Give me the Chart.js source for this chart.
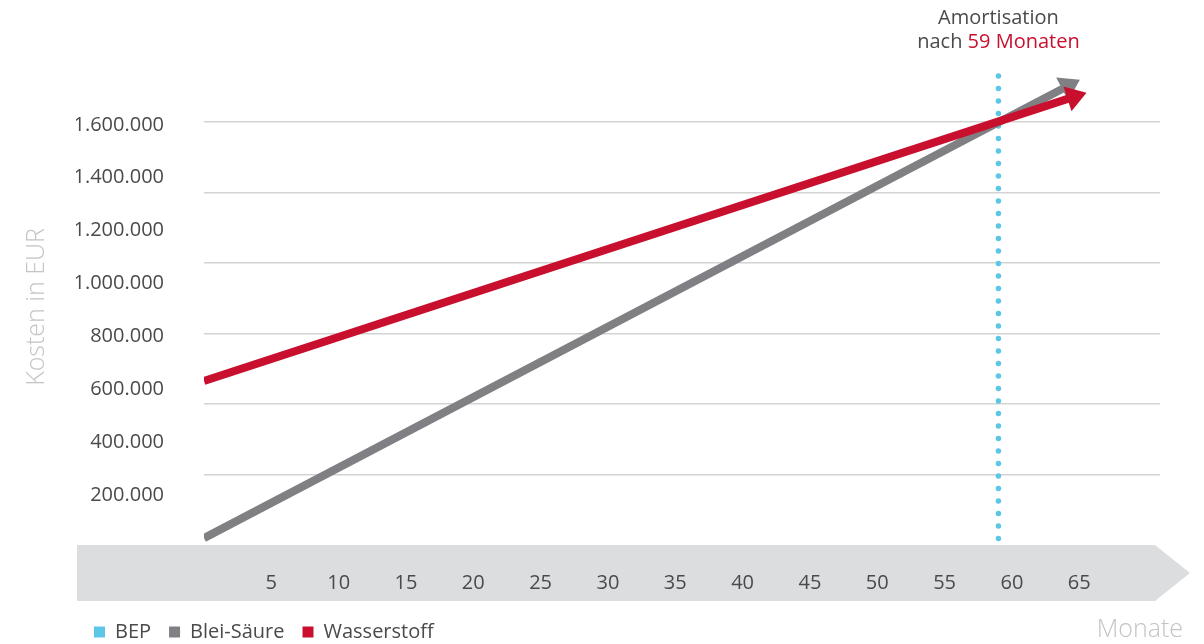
<!DOCTYPE html>
<html lang="de">
<head>
<meta charset="utf-8">
<title>Amortisation Blei-Säure vs. Wasserstoff</title>
<script src="https://cdn.jsdelivr.net/npm/chart.js@4.4.1/dist/chart.umd.min.js"></script>
<style>
    html, body { margin: 0; padding: 0; background: #ffffff; }
    #wrap { width: 1204px; height: 644px; }
</style>
</head>
<body>
<div id="wrap"><canvas id="bepChart"></canvas></div>
<script>
// values (months / EUR)
const bleiMonths = [0, 63.8];
const bleiCosts = [26000, 1726000];
const wasserMonths = [0, 64.2];
const wasserCosts = [620000, 1688000];
const bepMonth = 59;
const bepRange = [25000, 1780000];

const xTicks = [5, 10, 15, 20, 25, 30, 35, 40, 45, 50, 55, 60, 65];
const yTicks = [200000, 400000, 600000, 800000, 1000000, 1200000, 1400000, 1600000];
const gridValues = [266667, 533333, 800000, 1066667, 1333333, 1600000];

const RED = '#c8102e';
const GREY = '#808084';
const CYAN = '#5bc6e6';
const TEXT = '#4a4a4a';
const LIGHT = '#c4c4c4';

Chart.defaults.font.family = "'Open Sans', sans-serif";
Chart.defaults.font.size = 20;
Chart.defaults.font.weight = 500;
Chart.defaults.color = TEXT;

const toPoints = (xs, ys) => xs.map((x, i) => ({ x: x, y: ys[i] }));

// grey arrow band behind the x axis, "Monate" and the annotation on top
const decorPlugin = {
    id: 'decor',
    beforeDraw(chart) {
        const { ctx, chartArea } = chart;
        const top = chartArea.bottom;
        const h = 56;
        ctx.save();
        ctx.fillStyle = '#dcdddf';
        ctx.beginPath();
        ctx.moveTo(chartArea.left - 127, top);
        ctx.lineTo(chartArea.right - 5, top);
        ctx.lineTo(chartArea.right + 30, top + h / 2);
        ctx.lineTo(chartArea.right - 5, top + h);
        ctx.lineTo(chartArea.left - 127, top + h);
        ctx.closePath();
        ctx.fill();
        ctx.restore();
    },
    afterDatasetDraw(chart, args) {
        const ds = chart.data.datasets[args.index];
        if (!ds.arrow) return;
        const pts = args.meta.data;
        const a = pts[pts.length - 2], b = pts[pts.length - 1];
        const ang = Math.atan2(b.y - a.y, b.x - a.x);
        const len = 19, half = 13;
        const ctx = chart.ctx;
        ctx.save();
        ctx.translate(b.x, b.y);
        ctx.rotate(ang);
        ctx.fillStyle = ds.borderColor;
        ctx.beginPath();
        ctx.moveTo(len, 0);
        ctx.lineTo(-1, -half);
        ctx.lineTo(-1, half);
        ctx.closePath();
        ctx.fill();
        ctx.restore();
    },
    afterDraw(chart) {
        const { ctx, chartArea } = chart;
        const x = chart.scales.x.getPixelForValue(bepMonth);
        ctx.save();
        ctx.textBaseline = 'middle';
        ctx.font = "500 20px 'Open Sans', sans-serif";
        ctx.textAlign = 'center';
        ctx.fillStyle = TEXT;
        ctx.fillText('Amortisation', x, 18);

        const part1 = 'nach ';
        const part2 = bepMonth + ' Monaten';
        const w1 = ctx.measureText(part1).width;
        const w2 = ctx.measureText(part2).width;
        const startX = x - (w1 + w2) / 2;
        ctx.textAlign = 'left';
        ctx.fillText(part1, startX, 42);
        ctx.fillStyle = RED;
        ctx.fillText(part2, startX + w1, 42);

        ctx.font = "300 25px 'Open Sans', sans-serif";
        ctx.fillStyle = LIGHT;
        ctx.textAlign = 'right';
        ctx.fillText('Monate', chartArea.right + 23, 630);
        ctx.restore();
    }
};

const ctx = document.getElementById('bepChart').getContext('2d');
new Chart(ctx, {
    type: 'line',
    data: {
        datasets: [
            {
                label: 'BEP',
                data: [{ x: bepMonth, y: bepRange[0] }, { x: bepMonth, y: bepRange[1] }],
                borderColor: CYAN,
                backgroundColor: CYAN,
                borderWidth: 5.5,
                borderDash: [0, 12.5],
                borderCapStyle: 'round',
                pointRadius: 0,
                order: 3
            },
            {
                label: 'Blei-Säure',
                data: toPoints(bleiMonths, bleiCosts),
                borderColor: GREY,
                backgroundColor: GREY,
                borderWidth: 8,
                borderCapStyle: 'butt',
                pointRadius: 0,
                arrow: true,
                order: 2
            },
            {
                label: 'Wasserstoff',
                data: toPoints(wasserMonths, wasserCosts),
                borderColor: RED,
                backgroundColor: RED,
                borderWidth: 8,
                borderCapStyle: 'butt',
                pointRadius: 0,
                arrow: true,
                order: 1
            }
        ]
    },
    options: {
        responsive: true,
        maintainAspectRatio: false,
        devicePixelRatio: 1,
        animation: false,
        layout: { padding: { left: 76, right: 44, top: 69, bottom: -8 } },
        plugins: {
            tooltip: { enabled: false },
            legend: {
                position: 'bottom',
                align: 'start',
                labels: {
                    boxWidth: 11,
                    boxHeight: 11,
                    padding: 18,
                    color: TEXT,
                    font: { size: 20, weight: 500 },
                    sort: (a, b) => a.datasetIndex - b.datasetIndex,
                    generateLabels(chart) {
                        return Chart.defaults.plugins.legend.labels.generateLabels(chart).map(l => {
                            const c = chart.data.datasets[l.datasetIndex].borderColor;
                            return { ...l, fillStyle: c, strokeStyle: c, lineWidth: 0, lineDash: [] };
                        });
                    }
                }
            }
        },
        scales: {
            x: {
                type: 'linear',
                min: 0,
                max: 71,
                grid: { display: false },
                border: { display: false },
                ticks: { padding: 18, color: TEXT, font: { size: 20, weight: 500 } },
                afterBuildTicks(axis) { axis.ticks = xTicks.map(v => ({ value: v })); },
                afterFit(axis) { axis.height = 59; }
            },
            y: {
                min: 0,
                max: 1800000,
                grid: { display: false },
                border: { display: false },
                ticks: {
                    padding: 32,
                    labelOffset: 3,
                    color: TEXT,
                    font: { size: 20, weight: 500 },
                    callback: v => String(v).replace(/\B(?=(\d{3})+(?!\d))/g, '.')
                },
                title: {
                    display: true,
                    text: 'Kosten in EUR',
                    color: LIGHT,
                    font: { size: 25, weight: 300 },
                    padding: { top: -54, bottom: 0 }
                },
                afterBuildTicks(axis) { axis.ticks = yTicks.map(v => ({ value: v })); },
                afterFit(axis) { axis.width = 128; }
            },
            yGrid: {
                position: 'left',
                min: 0,
                max: 1800000,
                grid: { color: '#d3d3d3', lineWidth: 1.5, drawTicks: false },
                border: { display: false },
                ticks: { display: false },
                afterBuildTicks(axis) { axis.ticks = gridValues.map(v => ({ value: v })); },
                afterFit(axis) { axis.width = 0; }
            }
        }
    },
    plugins: [decorPlugin]
});
</script>
</body>
</html>
